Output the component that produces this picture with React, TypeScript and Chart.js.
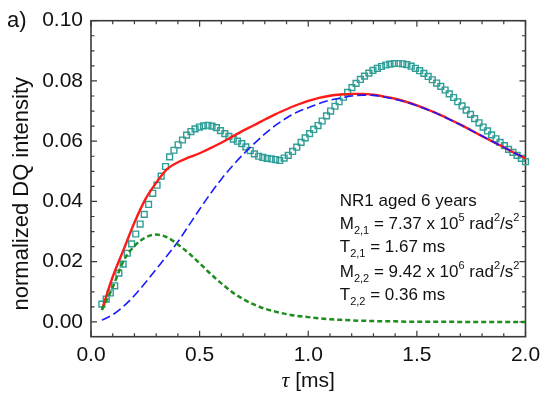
import React, { useEffect, useRef } from 'react';
import Chart from 'chart.js/auto';

// measured DQ build-up, open squares (tau in ms)
const tau = [
  0.050, 0.070, 0.089, 0.109, 0.128, 0.148, 0.167, 0.187, 0.206, 0.226,
  0.245, 0.265, 0.284, 0.304, 0.323, 0.343, 0.362, 0.382, 0.401, 0.421,
  0.440, 0.460, 0.479, 0.499, 0.518, 0.538, 0.557, 0.577, 0.596, 0.616,
  0.635, 0.655, 0.674, 0.694, 0.713, 0.733, 0.752, 0.772, 0.791, 0.811,
  0.830, 0.850, 0.869, 0.889, 0.908, 0.928, 0.947, 0.967, 0.986, 1.006,
  1.025, 1.045, 1.064, 1.084, 1.103, 1.123, 1.142, 1.162, 1.181, 1.201,
  1.220, 1.240, 1.259, 1.279, 1.298, 1.318, 1.337, 1.357, 1.376, 1.396,
  1.415, 1.435, 1.454, 1.474, 1.493, 1.513, 1.532, 1.552, 1.571, 1.591,
  1.610, 1.630, 1.649, 1.669, 1.688, 1.708, 1.727, 1.747, 1.766, 1.786,
  1.805, 1.825, 1.844, 1.864, 1.883, 1.903, 1.922, 1.942, 1.961, 1.981,
  2.000,
];
const dqIntensity = [
  0.0059, 0.0076, 0.0096, 0.0120, 0.0162, 0.0192, 0.0228, 0.0259, 0.0292, 0.0325,
  0.0357, 0.0390, 0.0427, 0.0454, 0.0484, 0.0516, 0.0548, 0.0570, 0.0588, 0.0604,
  0.0620, 0.0632, 0.0641, 0.0647, 0.0651, 0.0653, 0.0650, 0.0645, 0.0635, 0.0625,
  0.0616, 0.0607, 0.0600, 0.0592, 0.0581, 0.0569, 0.0558, 0.0550, 0.0546, 0.0543,
  0.0541, 0.0539, 0.0536, 0.0544, 0.0553, 0.0566, 0.0580, 0.0596, 0.0611, 0.0625,
  0.0639, 0.0652, 0.0667, 0.0684, 0.0700, 0.0716, 0.0731, 0.0746, 0.0762, 0.0778,
  0.0792, 0.0805, 0.0816, 0.0826, 0.0835, 0.0842, 0.0848, 0.0853, 0.0856, 0.0858,
  0.0858, 0.0857, 0.0854, 0.0849, 0.0842, 0.0834, 0.0825, 0.0815, 0.0804, 0.0793,
  0.0782, 0.0770, 0.0757, 0.0745, 0.0731, 0.0717, 0.0703, 0.0689, 0.0675, 0.0661,
  0.0647, 0.0634, 0.0621, 0.0608, 0.0596, 0.0585, 0.0573, 0.0563, 0.0553, 0.0543,
  0.0532,
];

// fit curves
const fitTau = [
  0.05, 0.10, 0.15, 0.20, 0.25, 0.30, 0.35, 0.40, 0.45, 0.50,
  0.55, 0.60, 0.65, 0.70, 0.75, 0.80, 0.85, 0.90, 0.95, 1.00,
  1.05, 1.10, 1.15, 1.20, 1.25, 1.30, 1.35, 1.40, 1.45, 1.50,
  1.55, 1.60, 1.65, 1.70, 1.75, 1.80, 1.85, 1.90, 1.95, 2.00,
];
const totalFit = [
  0.0040, 0.0150, 0.0240, 0.0330, 0.0407, 0.0462, 0.0507, 0.0530, 0.0546, 0.0560,
  0.0577, 0.0595, 0.0615, 0.0635, 0.0653, 0.0672, 0.0690, 0.0706, 0.0721, 0.0734,
  0.0744, 0.0751, 0.0755, 0.0757, 0.0757, 0.0754, 0.0748, 0.0741, 0.0731, 0.0719,
  0.0705, 0.0690, 0.0673, 0.0655, 0.0636, 0.0617, 0.0598, 0.0580, 0.0561, 0.0543,
];
const slowFit = [
  0.0006, 0.0024, 0.0052, 0.0088, 0.0130, 0.0175, 0.0220, 0.0266, 0.0320, 0.0374,
  0.0426, 0.0474, 0.0517, 0.0556, 0.0591, 0.0624, 0.0653, 0.0677, 0.0697, 0.0711,
  0.0725, 0.0736, 0.0744, 0.0750, 0.0753, 0.0752, 0.0747, 0.0739, 0.0730, 0.0718,
  0.0704, 0.0689, 0.0672, 0.0655, 0.0636, 0.0617, 0.0598, 0.0580, 0.0561, 0.0543,
];
const fastFit = [
  0.0040, 0.0115, 0.0203, 0.0252, 0.0280, 0.0290, 0.0281, 0.0257, 0.0228, 0.0195,
  0.0160, 0.0128, 0.0099, 0.0076, 0.0058, 0.0044, 0.0034, 0.0026, 0.0020, 0.0016,
  0.0012, 0.0009, 0.0007, 0.0005, 0.0004, 0.0003, 0.0002, 0.0002, 0.0001, 0.0001,
  0.0001, 0.0001, 0.0001, 0.0000, 0.0000, 0.0000, 0.0000, 0.0000, 0.0000, 0.0000,
];

const xTickValues = [0, 0.5, 1.0, 1.5, 2.0];
const xTickLabels = ['0.0', '0.5', '1.0', '1.5', '2.0'];
const yTickValues = [0, 0.02, 0.04, 0.06, 0.08, 0.10];
const yTickLabels = ['0.00', '0.02', '0.04', '0.06', '0.08', '0.10'];

type Kind = 'n' | 'sub' | 'sup';
const noteLines: [string, Kind][][] = [
  [['NR1 aged 6 years', 'n']],
  [['M', 'n'], ['2,1', 'sub'], [' = 7.37 x 10', 'n'], ['5', 'sup'], [' rad', 'n'], ['2', 'sup'], ['/s', 'n'], ['2', 'sup']],
  [['T', 'n'], ['2,1', 'sub'], [' = 1.67 ms', 'n']],
  [['M', 'n'], ['2,2', 'sub'], [' = 9.42 x 10', 'n'], ['6', 'sup'], [' rad', 'n'], ['2', 'sup'], ['/s', 'n'], ['2', 'sup']],
  [['T', 'n'], ['2,2', 'sub'], [' = 0.36 ms', 'n']],
];
const noteBaselines = [206, 228.5, 251.5, 277, 300];

const SANS = '"Liberation Sans", Arial, Helvetica, sans-serif';
const SERIF = '"Liberation Serif", "DejaVu Serif", serif';
const AXIS = '#3a3a3a';
const INK = '#111';

function drawRich(ctx: CanvasRenderingContext2D, x: number, y: number, parts: [string, Kind][]) {
  let cx = x;
  for (const [txt, kind] of parts) {
    if (kind === 'n') {
      ctx.font = `17px ${SANS}`;
      ctx.fillText(txt, cx, y);
    } else {
      ctx.font = `11px ${SANS}`;
      ctx.fillText(txt, cx, kind === 'sub' ? y + 5 : y - 8);
    }
    cx += ctx.measureText(txt).width;
  }
}

const decor = {
  id: 'decor',
  beforeDatasetsDraw(chart: any) {
    const { ctx, chartArea: a, scales } = chart;
    const xs = scales.x;
    const ys = scales.y;
    ctx.save();
    ctx.strokeStyle = AXIS;
    ctx.lineWidth = 1.2;
    ctx.beginPath();
    // inward ticks on all four sides
    for (let k = 0; k <= 20; k++) {
      const px = xs.getPixelForValue(k * 0.1);
      const len = k % 5 === 0 ? 6 : 3.5;
      ctx.moveTo(px, a.bottom);
      ctx.lineTo(px, a.bottom - len);
      ctx.moveTo(px, a.top);
      ctx.lineTo(px, a.top + len);
    }
    for (let k = 0; k <= 20; k++) {
      const py = ys.getPixelForValue(k * 0.005);
      const len = k % 4 === 0 ? 6 : 3.5;
      ctx.moveTo(a.left, py);
      ctx.lineTo(a.left + len, py);
      ctx.moveTo(a.right, py);
      ctx.lineTo(a.right - len, py);
    }
    ctx.stroke();
    ctx.lineWidth = 1.6;
    ctx.strokeRect(a.left, a.top, a.right - a.left, a.bottom - a.top);
    ctx.restore();
  },
  afterDraw(chart: any) {
    const { ctx, chartArea: a } = chart;
    ctx.save();
    ctx.fillStyle = INK;
    ctx.textBaseline = 'alphabetic';

    // panel letter
    ctx.font = `22px ${SANS}`;
    ctx.textAlign = 'left';
    ctx.fillText('a)', 7, 27);

    // y title
    ctx.save();
    ctx.translate(28, (a.top + a.bottom) / 2 + 15);
    ctx.rotate(-Math.PI / 2);
    ctx.textAlign = 'center';
    ctx.font = `22px ${SANS}`;
    ctx.fillText('normalized DQ intensity', 0, 0);
    ctx.restore();

    // x title: italic tau + [ms]
    ctx.textAlign = 'left';
    ctx.font = `italic 22px ${SERIF}`;
    const wTau = ctx.measureText('τ').width;
    ctx.font = `21px ${SANS}`;
    const wRest = ctx.measureText(' [ms]').width;
    const x0 = (a.left + a.right) / 2 - (wTau + wRest) / 2;
    ctx.font = `italic 22px ${SERIF}`;
    ctx.fillText('τ', x0, 386.5);
    ctx.font = `21px ${SANS}`;
    ctx.fillText(' [ms]', x0 + wTau, 386.5);

    // fit parameters
    const nx = chart.scales.x.getPixelForValue(1.145);
    noteLines.forEach((parts, i) => drawRich(ctx, nx, noteBaselines[i], parts));
    ctx.restore();
  },
};

const pts = (xs: number[], ys: number[]) => xs.map((x, i) => ({ x, y: ys[i] }));

export default function App() {
  const canvasRef = useRef<HTMLCanvasElement>(null);

  useEffect(() => {
    if (!canvasRef.current) return;
    const chart = new Chart(canvasRef.current, {
      type: 'line',
      data: {
        datasets: [
          {
            label: 'fast component',
            data: pts(fitTau, fastFit),
            borderColor: '#1e8c1e',
            borderWidth: 2.5,
            borderDash: [5, 3],
            pointRadius: 0,
            cubicInterpolationMode: 'monotone',
            order: 0,
          },
          {
            label: 'slow component',
            data: pts(fitTau, slowFit),
            borderColor: '#1a1aff',
            borderWidth: 1.6,
            borderDash: [9, 4],
            pointRadius: 0,
            cubicInterpolationMode: 'monotone',
            order: 1,
          },
          {
            label: 'total fit',
            data: pts(fitTau, totalFit),
            borderColor: '#ff1a1a',
            borderWidth: 2.4,
            pointRadius: 0,
            cubicInterpolationMode: 'monotone',
            order: 2,
          },
          {
            label: 'DQ data',
            data: pts(tau, dqIntensity),
            showLine: false,
            pointStyle: 'rect',
            pointRadius: 4.1,
            pointBorderWidth: 1.4,
            pointBorderColor: '#2e9e96',
            pointBackgroundColor: 'rgba(255,255,255,0)',
            clip: false,
            order: 3,
          },
        ],
      },
      options: {
        responsive: false,
        animation: false,
        events: [],
        layout: { padding: { top: 20.7, right: 24.5, left: 0, bottom: 0 } },
        plugins: { legend: { display: false }, tooltip: { enabled: false } },
        scales: {
          x: {
            type: 'linear',
            min: 0,
            max: 2,
            grid: { display: false, drawTicks: false },
            border: { display: false },
            afterBuildTicks: (s: any) => { s.ticks = xTickValues.map(value => ({ value })); },
            afterFit: (s: any) => { s.height = 63.3; },
            ticks: {
              autoSkip: false,
              maxRotation: 0,
              padding: 6,
              color: INK,
              font: { family: SANS, size: 21 },
              callback: (_v: any, i: number) => xTickLabels[i],
            },
          },
          y: {
            type: 'linear',
            min: -0.0049,
            max: 0.1,
            grid: { display: false, drawTicks: false },
            border: { display: false },
            afterBuildTicks: (s: any) => { s.ticks = yTickValues.map(value => ({ value })); },
            afterFit: (s: any) => { s.width = 91; },
            ticks: {
              autoSkip: false,
              padding: 8,
              color: INK,
              font: { family: SANS, size: 21 },
              callback: (_v: any, i: number) => yTickLabels[i],
            },
          },
        },
      },
      plugins: [decor],
    });
    return () => chart.destroy();
  }, []);

  return (
    <div style={{ position: 'absolute', left: 0, top: 0, width: 550, height: 400, background: '#fff' }}>
      <canvas ref={canvasRef} width={550} height={400} style={{ display: 'block' }} />
    </div>
  );
}
